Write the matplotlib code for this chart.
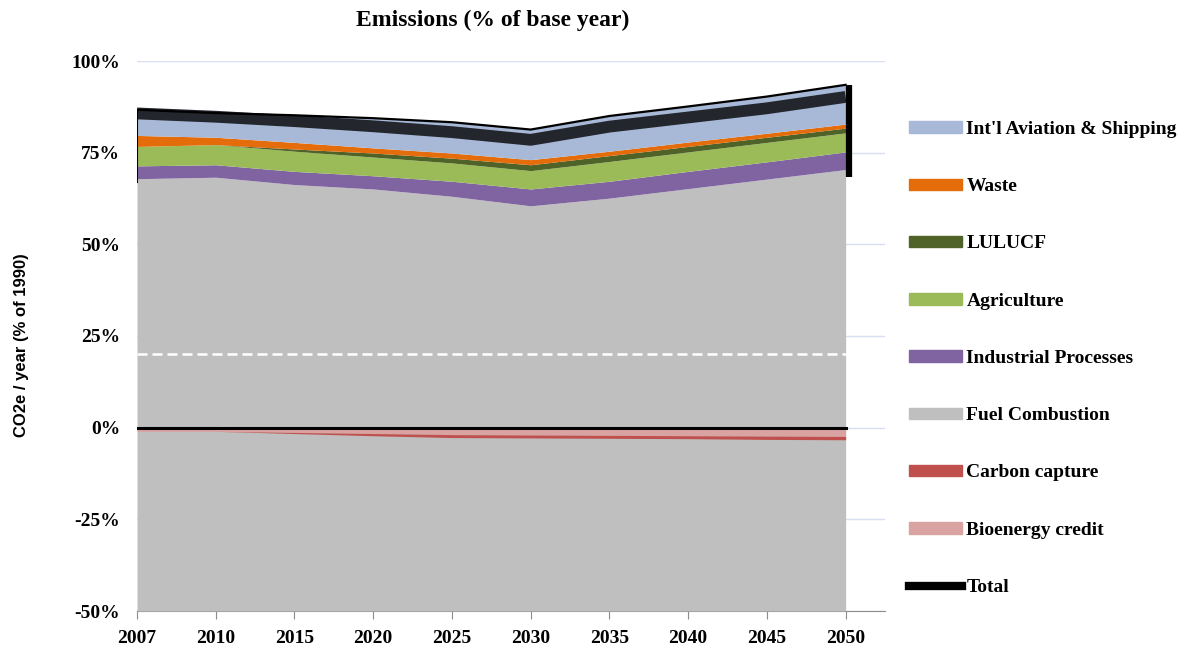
import numpy as np
import matplotlib

matplotlib.use("Agg")
import matplotlib.pyplot as plt
from matplotlib.patches import Patch
from matplotlib.lines import Line2D
from matplotlib.transforms import offset_copy

# --- data (% of 1990 emissions) ---
years = ["2007", "2010", "2015", "2020", "2025", "2030", "2035", "2040", "2045", "2050"]
fuel_combustion = [67.9, 68.3, 66.3, 65.1, 63.1, 60.5, 62.6, 65.2, 67.8, 70.4]
industrial = [3.5, 3.4, 3.6, 3.6, 4.1, 4.6, 4.6, 4.7, 4.7, 4.8]
agriculture = [5.3, 5.5, 5.5, 5.1, 5.0, 5.0, 5.4, 5.3, 5.3, 5.2]
lulucf = [0.0, 0.0, 0.6, 1.1, 1.3, 1.6, 1.6, 1.5, 1.4, 1.3]
waste = [3.0, 2.0, 1.8, 1.4, 1.4, 1.4, 1.2, 1.2, 1.1, 1.1]
aviation = [7.0, 6.6, 7.4, 8.1, 8.4, 8.2, 9.6, 9.7, 10.0, 10.7]
bioenergy = [-1.0, -1.0, -1.3, -1.6, -1.9, -2.0, -2.1, -2.2, -2.3, -2.4]
carbon_capture = [0.0, 0.0, -0.3, -0.6, -0.8, -0.8, -0.8, -0.8, -0.9, -0.9]
target_level = 20
y_ticks = [-50, -25, 0, 25, 50, 75, 100]

C_AVIATION = "#A8B9D7"
C_WASTE = "#E46C0A"
C_LULUCF = "#4F6228"
C_AGRI = "#9BBB59"
C_INDUS = "#8064A2"
C_FUEL = "#BFBFBF"
C_CCS = "#C0504D"
C_BIO = "#D9A3A2"
C_TOTAL = "#23262D"

SERIF = ["Liberation Serif", "DejaVu Serif"]

fig = plt.figure(figsize=(11.98, 6.49), dpi=100)
ax = fig.add_axes([137 / 1198, 1 - 611 / 649, (885 - 137) / 1198, (611 - 61) / 649])

x = np.arange(len(years))
fuel = np.array(fuel_combustion)

# first series fills down to the bottom of the value axis
ax.fill_between(x, y_ticks[0], fuel, color=C_FUEL, lw=0, zorder=2)

bottom = fuel.copy()
for vals, col in [(industrial, C_INDUS), (agriculture, C_AGRI), (lulucf, C_LULUCF),
                  (waste, C_WASTE), (aviation, C_AVIATION)]:
    top = bottom + np.array(vals)
    ax.fill_between(x, bottom, top, color=col, lw=0, zorder=2)
    bottom = top
stack_top = bottom

bio = np.array(bioenergy)
ccs = bio + np.array(carbon_capture)
ax.fill_between(x, 0, bio, color=C_BIO, lw=0, zorder=3)
ax.fill_between(x, bio, ccs, color=C_CCS, lw=0, zorder=3)

total = stack_top + np.array(bioenergy) + np.array(carbon_capture)

ax.axhline(0, xmin=0, xmax=x[-1] / 9.5, color="black", lw=2.2, zorder=4)
ax.plot(x, [target_level] * len(x), color="white", lw=1.8, ls=(0, (4, 2)), zorder=4)
ax.plot(x, total, color=C_TOTAL, lw=8.5, solid_capstyle="butt", zorder=5)

# bevelled edge on the stack
ax.plot(x, stack_top, color="black", lw=1.6, zorder=6)
edge = offset_copy(ax.transData, fig=fig, x=3, y=0, units="dots")
ax.plot([x[-1], x[-1]], [fuel[-1] - 2, stack_top[-1]], color="black", lw=4.5,
        solid_capstyle="butt", transform=edge, zorder=6)
ax.plot([x[0], x[0]], [fuel[0] - 1, stack_top[0]], color="black", lw=1.5, zorder=6)

ax.set_xlim(0, 9.5)
ax.set_ylim(y_ticks[0], y_ticks[-1])
ax.set_xticks(x, years)
ax.set_yticks(y_ticks, [f"{v}%" for v in y_ticks])
ax.grid(axis="y", color="#D6E0F0", lw=1)
ax.set_axisbelow(True)

for s in ("top", "right", "left"):
    ax.spines[s].set_visible(False)
ax.spines["bottom"].set_color("#8C8C8C")
ax.spines["bottom"].set_zorder(1)
ax.tick_params(axis="y", length=0, pad=12)
ax.tick_params(axis="x", length=6, color="#8C8C8C", direction="out", pad=8)
for lab in ax.get_xticklabels() + ax.get_yticklabels():
    lab.set_fontfamily(SERIF)
    lab.set_fontweight("bold")
    lab.set_fontsize(14)

fig.text(493 / 1198, 1 - 20 / 649, "Emissions (% of base year)", ha="center", va="center",
         family=SERIF, fontweight="bold", fontsize=17)
fig.text(22 / 1198, 1 - 345 / 649, "CO2e / year (% of 1990)", rotation=90, ha="center",
         va="center", family=["Liberation Sans", "DejaVu Sans"], fontweight="bold", fontsize=12)

handles = [
    Patch(color=C_AVIATION), Patch(color=C_WASTE), Patch(color=C_LULUCF),
    Patch(color=C_AGRI), Patch(color=C_INDUS), Patch(color=C_FUEL),
    Patch(color=C_CCS), Patch(color=C_BIO), Line2D([], [], color="black", lw=6),
]
labels = ["Int'l Aviation & Shipping", "Waste", "LULUCF", "Agriculture",
          "Industrial Processes", "Fuel Combustion", "Carbon capture",
          "Bioenergy credit", "Total"]
fig.legend(handles, labels, loc="upper left", bbox_to_anchor=(909 / 1198, 1 - 121 / 649),
           frameon=False, prop={"family": SERIF, "weight": "bold", "size": 14},
           handlelength=2.7, handleheight=0.55, handletextpad=0.25, labelspacing=2.07,
           borderpad=0, borderaxespad=0)

fig.savefig("out.png", dpi=100)
